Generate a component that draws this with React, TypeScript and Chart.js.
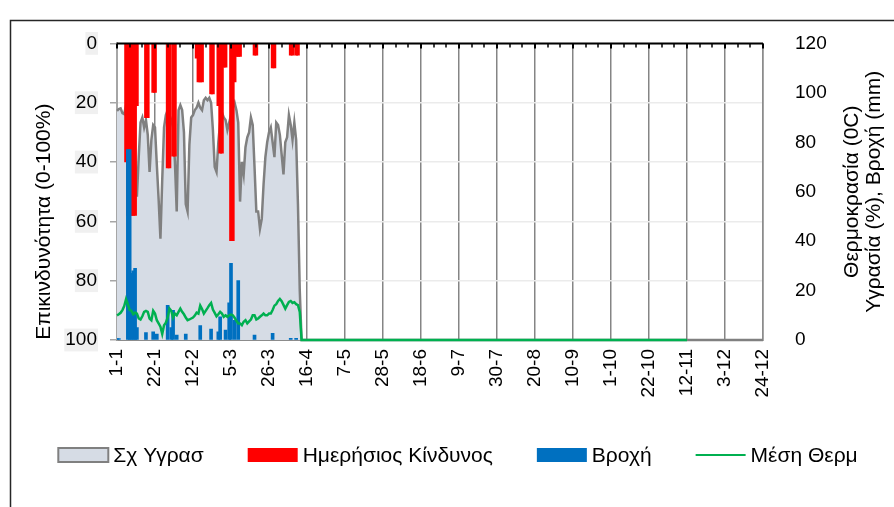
import React, { useEffect, useRef } from 'react';
import { Chart, registerables } from 'chart.js';

Chart.register(...registerables);

// ---- tick labels (every 21 days from 1 Jan) ----
const dayLabels = ['1-1', '22-1', '12-2', '5-3', '26-3', '16-4', '7-5', '28-5', '18-6', '9-7', '30-7', '20-8', '10-9', '1-10', '22-10', '12-11', '3-12', '24-12'];
const labelStepDays = 21;
const minorTickDays = 7;
const lastDay = 357;

// ---- Σχ Υγρασ (%), daily from day 0 ----
const humidity = [
  92.7, 93.4, 93.7, 91.8, 91.4, 95, 96, 94, 90, 84,
  72, 58, 74, 88, 90, 86, 89, 83, 68, 81,
  87, 86, 71, 57, 41, 65, 86, 91, 93, 91,
  89, 86, 72, 52, 93, 95, 93, 84, 55, 52,
  79, 90, 91, 93, 94, 96, 94, 93, 97, 98,
  97, 98, 96, 85, 70, 68, 80, 88, 92, 90,
  89, 85, 88, 91, 94, 96, 93, 88, 56, 72,
  67, 78, 82, 84, 90, 87, 70, 52, 52, 45,
  49, 63, 74, 80, 84, 86, 80, 74, 88, 87,
  83, 75, 67, 80, 82, 91, 87, 81, 88, 81,
  55, 20,
];
const humidityZeroDays = [102, 357];

// ---- Μέση Θερμ (°C), daily from day 0 ----
const temperature = [
  10.0, 10.4, 11.0, 12.1, 13.7, 16.5, 14.5, 12.1, 11.8, 10.4,
  11.1, 10.7, 8.7, 8.3, 9.6, 11.4, 11.8, 11.4, 8.7, 8.0,
  11.8, 10.7, 8.0, 6.7, 5.4, 2.5, 6.0, 7.0, 9.1, 12.7,
  11.8, 9.1, 10.7, 10.0, 11.4, 12.7, 11.4, 10.4, 9.1, 8.0,
  8.3, 8.7, 9.1, 9.9, 11.1, 10.7, 13.9, 12.5, 10.7, 11.8,
  12.9, 14.1, 15.0, 12.3, 11.0, 9.6, 10.4, 11.4, 10.7, 9.4,
  10.0, 9.4, 10.0, 10.3, 10.0, 9.0, 7.8, 6.7, 6.7, 6.0,
  7.4, 8.0, 6.7, 7.5, 8.3, 10.0, 10.0, 8.3, 8.7, 9.4,
  10.0, 10.7, 10.0, 10.0, 10.7, 10.7, 12.1, 13.9, 14.5, 15.8,
  16.6, 15.7, 14.2, 12.7, 14.1, 15.4, 15.8, 15.0, 15.3, 14.5,
  14.1, 11.4,
];
const temperatureZeroDays = [102, 315];

// ---- Ημερήσιος Κίνδυνος (0-100%) ----
const riskDays = [5, 6, 7, 8, 9, 10, 11, 16, 17, 20, 21, 28, 29, 31, 32, 44, 45, 46, 47, 52, 53, 56, 57, 58, 59, 60, 63, 64, 65, 66, 67, 68, 76, 77, 86, 87, 96, 97, 99, 100];
const riskValues = [40, 58, 58, 58, 58, 58, 21, 25, 25, 16.5, 16.5, 42, 42, 38, 38, 5, 13, 13, 13, 17, 17, 21, 37, 37, 8, 8, 66.5, 66.5, 13, 4.4, 4.4, 4.4, 4, 4, 8.3, 8.3, 4, 4, 4, 4];

// ---- Βροχή (mm) ----
const rainDays = [0, 1, 6, 7, 8, 9, 10, 11, 16, 20, 22, 28, 30, 31, 33, 38, 46, 52, 56, 57, 60, 62, 63, 65, 67, 76, 86, 96, 99];
const rainValues = [0.6, 0.6, 77, 77, 27, 28, 29, 5, 3, 3.3, 2.4, 14, 5, 12, 2, 2.4, 5.8, 4.4, 3.3, 9.4, 4, 15, 31, 8, 24, 2, 2.7, 0.7, 0.7];

const seriesNames = ['Σχ Υγρασ', 'Ημερήσιος Κίνδυνος', 'Βροχή', 'Μέση Θερμ'];
const leftTitle = 'Επικινδυνότητα (0-100%)';
const rightTitleLines = ['Θερμοκρασία (0C)', 'Υγρασία (%), Βροχή (mm)'];

const FONT = "'Liberation Sans', Arial, sans-serif";
const C_AREA = '#d6dce5';
const C_AREA_LINE = '#808080';
const C_RED = '#ff0000';
const C_BLUE = '#0070c0';
const C_GREEN = '#00b050';

const decorPlugin = {
  id: 'decor',
  beforeDraw(chart: any) {
    const ctx = chart.ctx;
    ctx.save();
    ctx.strokeStyle = '#262626';
    ctx.lineWidth = 1.5;
    ctx.beginPath();
    ctx.moveTo(10.5, chart.height);
    ctx.lineTo(10.5, 20.5);
    ctx.lineTo(chart.width, 20.5);
    ctx.stroke();
    ctx.restore();
  },
  afterDatasetsDraw(chart: any) {
    const ctx = chart.ctx;
    const area = chart.chartArea;
    const xs = chart.scales.x;
    ctx.save();
    ctx.strokeStyle = '#000';
    ctx.lineWidth = 2;
    ctx.beginPath();
    ctx.moveTo(area.left, area.top);
    ctx.lineTo(area.right, area.top);
    ctx.stroke();
    for (let d = 0; d <= lastDay; d += minorTickDays) {
      const px = Math.round(xs.getPixelForValue(d));
      const major = d % labelStepDays === 0;
      ctx.lineWidth = major ? 2 : 1.5;
      ctx.beginPath();
      ctx.moveTo(px, area.top);
      ctx.lineTo(px, area.top + (major ? 5 : 4));
      ctx.stroke();
    }
    ctx.restore();
  },
  afterDraw(chart: any) {
    const ctx = chart.ctx;
    const area = chart.chartArea;
    ctx.save();
    ctx.fillStyle = '#000';
    ctx.textAlign = 'center';
    ctx.textBaseline = 'middle';
    ctx.font = `21px ${FONT}`;
    // left title
    ctx.save();
    ctx.translate(44, (area.top + area.bottom) / 2 + 30);
    ctx.rotate(-Math.PI / 2);
    ctx.fillText(leftTitle, 0, 0);
    ctx.restore();
    // right title (two lines)
    const midY = (area.top + area.bottom) / 2;
    [852, 874].forEach((x, i) => {
      ctx.save();
      ctx.translate(x, midY);
      ctx.rotate(-Math.PI / 2);
      ctx.fillText(rightTitleLines[i], 0, 0);
      ctx.restore();
    });

    // legend
    ctx.font = `21px ${FONT}`;
    const boxW = 50, boxH = 14, gapText = 5, gapItem = 44;
    const widths = seriesNames.map((n) => boxW + gapText + ctx.measureText(n).width);
    const total = widths.reduce((a, b) => a + b, 0) + gapItem * (seriesNames.length - 1);
    let x = 458 - total / 2;
    const cy = 455;
    ctx.textAlign = 'left';
    seriesNames.forEach((name, i) => {
      if (i === 0) {
        ctx.fillStyle = C_AREA;
        ctx.fillRect(x, cy - boxH / 2, boxW, boxH);
        ctx.strokeStyle = C_AREA_LINE;
        ctx.lineWidth = 2;
        ctx.strokeRect(x, cy - boxH / 2, boxW, boxH);
      } else if (i === 1 || i === 2) {
        ctx.fillStyle = i === 1 ? C_RED : C_BLUE;
        ctx.fillRect(x, cy - boxH / 2, boxW, boxH);
      } else {
        ctx.strokeStyle = C_GREEN;
        ctx.lineWidth = 2;
        ctx.beginPath();
        ctx.moveTo(x, cy);
        ctx.lineTo(x + boxW, cy);
        ctx.stroke();
      }
      ctx.fillStyle = '#000';
      ctx.fillText(name, x + boxW + gapText, cy + 1);
      x += widths[i] + gapItem;
    });
    ctx.restore();
  },
};

export default function App() {
  const ref = useRef<HTMLCanvasElement | null>(null);
  useEffect(() => {
    if (!ref.current) return;
    const humData = humidity.map((v, i) => ({ x: i, y: v })).concat(humidityZeroDays.map((d) => ({ x: d, y: 0 })));
    const tempData = temperature.map((v, i) => ({ x: i, y: v })).concat(temperatureZeroDays.map((d) => ({ x: d, y: 0 })));
    const riskData = riskDays.map((d, i) => ({ x: d, y: riskValues[i] }));
    const rainData = rainDays.map((d, i) => ({ x: d, y: rainValues[i] }));

    const chart = new Chart(ref.current, {
      type: 'line',
      data: {
        datasets: [
          {
            type: 'line',
            label: seriesNames[0],
            data: humData,
            yAxisID: 'y2',
            borderColor: C_AREA_LINE,
            backgroundColor: C_AREA,
            borderWidth: 2.5,
            fill: 'origin',
            pointRadius: 0,
            tension: 0,
            clip: 3,
            order: 4,
          },
          {
            type: 'bar',
            label: seriesNames[1],
            data: riskData,
            yAxisID: 'y',
            backgroundColor: C_RED,
            barThickness: 3,
            grouped: false,
            order: 3,
          },
          {
            type: 'bar',
            label: seriesNames[2],
            data: rainData,
            yAxisID: 'y2',
            backgroundColor: C_BLUE,
            barThickness: 3,
            grouped: false,
            order: 2,
          },
          {
            type: 'line',
            label: seriesNames[3],
            data: tempData,
            yAxisID: 'y2',
            borderColor: C_GREEN,
            borderWidth: 2.5,
            fill: false,
            pointRadius: 0,
            tension: 0,
            clip: 3,
            order: 1,
          },
        ] as any,
      },
      options: {
        animation: false,
        responsive: true,
        maintainAspectRatio: false,
        devicePixelRatio: 1,
        layout: { padding: { top: 42, left: 0, right: 0, bottom: 0 } },
        plugins: { legend: { display: false }, tooltip: { enabled: false }, title: { display: false } },
        scales: {
          x: {
            type: 'linear',
            position: 'bottom',
            min: 0,
            max: lastDay,
            offset: false,
            afterFit: (s: any) => { s.height = 167; s.paddingLeft = 0; s.paddingRight = 0; },
            ticks: {
              stepSize: labelStepDays,
              autoSkip: false,
              minRotation: 90,
              maxRotation: 90,
              padding: 9,
              color: '#000',
              font: { family: FONT, size: 19 },
              callback: (v: any) => dayLabels[Math.round(Number(v) / labelStepDays)] ?? '',
            },
            grid: { color: '#858585', lineWidth: 1.5, drawTicks: false, offset: false },
            border: { color: '#8c8c8c', width: 2 },
          },
          y: {
            type: 'linear',
            position: 'left',
            min: 0,
            max: 100,
            reverse: true,
            afterFit: (s: any) => { s.width = 117; },
            ticks: {
              stepSize: 20,
              padding: 13,
              color: '#000',
              font: { family: FONT, size: 19 },
              showLabelBackdrop: true,
              backdropColor: '#f0f0f0',
              backdropPadding: { top: 0, bottom: 0, left: 1, right: 1 },
            },
            grid: { color: '#ebebeb', lineWidth: 1.5, tickColor: '#a6a6a6', tickLength: 7, drawTicks: true },
            border: { color: '#a6a6a6', width: 2 },
          },
          y2: {
            type: 'linear',
            position: 'right',
            min: 0,
            max: 120,
            afterFit: (s: any) => { s.width = 131; },
            ticks: {
              stepSize: 20,
              padding: 32,
              color: '#000',
              font: { family: FONT, size: 19 },
            },
            grid: { drawOnChartArea: false, drawTicks: false },
            border: { color: '#8c8c8c', width: 1.5 },
          },
        },
      } as any,
      plugins: [decorPlugin],
    });
    return () => chart.destroy();
  }, []);

  return (
    <div style={{ position: 'absolute', left: 0, top: 0, width: 894, height: 507, background: '#fff' }}>
      <canvas ref={ref} />
    </div>
  );
}
